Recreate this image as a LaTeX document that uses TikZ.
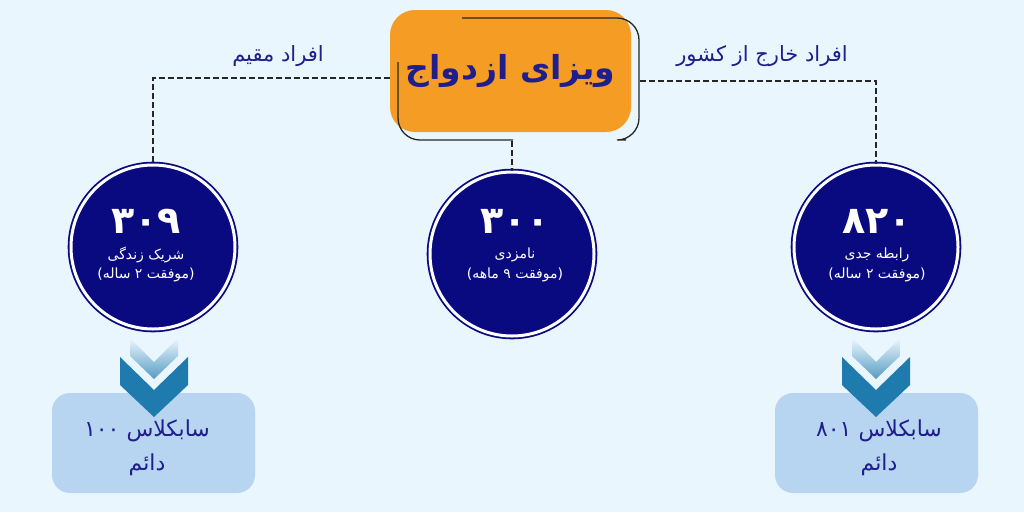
\documentclass[tikz,border=0pt]{standalone}
\usepackage{fontspec}
\usetikzlibrary{shapes,arrows,calc}
\setmainfont{DejaVu Sans}
\newfontfamily\farsi[Script=Arabic]{DejaVu Sans}
\TeXXeTstate=1
\definecolor{bgblue}{RGB}{234,246,253}
\definecolor{titleorange}{RGB}{245,156,36}
\definecolor{navy}{RGB}{10,10,128}
\definecolor{textnavy}{RGB}{30,30,140}
\definecolor{boxblue}{RGB}{183,212,240}
\definecolor{chevblue}{RGB}{31,122,174}
\tikzstyle{every picture}=[x=1pt, y=-1pt]
\tikzstyle{visabox}=[fill=titleorange, rounded corners=25pt, minimum width=241pt,%
	minimum height=122pt, inner sep=0pt, text=textnavy,%
	font=\farsi\bfseries\fontsize{33}{40}\selectfont]
\tikzstyle{frameline}=[draw=black!85, line width=1.3pt, rounded corners=22pt]
\tikzstyle{dashline}=[draw=black!85, line width=1.8pt, dash pattern=on 6pt off 3pt]
\tikzstyle{ring}=[circle, fill=navy, draw=navy, double=white, double distance=3pt,%
	line width=1.8pt, minimum size=164pt, inner sep=0pt]
\tikzstyle{num}=[text=white, font=\farsi\bfseries\fontsize{38}{40}\selectfont]
\tikzstyle{small}=[text=white, font=\farsi\fontsize{14}{17}\selectfont]
\tikzstyle{group}=[text=textnavy, font=\farsi\fontsize{21}{24}\selectfont]
\tikzstyle{subbox}=[fill=boxblue, rounded corners=18pt, minimum width=203pt,%
	minimum height=100pt]
\tikzstyle{subtext}=[text=textnavy, align=center, font=\farsi\fontsize{22}{34}\selectfont]
\tikzstyle{chevron}=[fill=chevblue]
\tikzstyle{fadechevron}=[top color=bgblue, bottom color=chevblue!75]

\begin{document}
\begin{tikzpicture}
	\fill[bgblue] (0,0) rectangle (1024,512);
	\useasboundingbox (0,0) rectangle (1024,512);
	\node[visabox] (visa) at (510.5,71) {\beginR ویزای ازدواج\endR};
	\draw[frameline] (462,18) -- (639,18) -- (639,140) -- (626,140);
	\draw[frameline] (398,62) -- (398,140) -- (513,140);
	\node[ring] (c309) at (153,247) {};
	\node[ring] (c300) at (512,254) {};
	\node[ring] (c820) at (876,247) {};
	\draw[dashline] ($(visa.west)+(0,7)$) -| (c309.north);
	\draw[dashline] ($(visa.east)+(9,10)$) -| (c820.north);
	\draw[dashline] (c300.north |- 0,141) -- (c300.north);
	\node[group] (resident) at (278,56) {\beginR افراد مقیم\endR};
	\node[group] (abroad) at (762,56) {\beginR افراد خارج از کشور\endR};
	\node[num] (n309) at (146,221) {\beginR ۳۰۹\endR};
	\node[small] (l309) at (146,255) {\beginR شریک زندگی\endR};
	\node[small] (p309) at (146,275) {\beginR (موفقت ۲ ساله)\endR};
	\node[num] (n300) at (515,221) {\beginR ۳۰۰\endR};
	\node[small] (l300) at (515,255) {\beginR نامزدی\endR};
	\node[small] (p300) at (515,275) {\beginR (موفقت ۹ ماهه)\endR};
	\node[num] (n820) at (877,221) {\beginR ۸۲۰\endR};
	\node[small] (l820) at (877,255) {\beginR رابطه جدی\endR};
	\node[small] (p820) at (877,275) {\beginR (موفقت ۲ ساله)\endR};
	\node[subbox] (s100) at (153.5,443) {};
	\node[subtext] (t100) at (147,448) {\beginR سابکلاس ۱۰۰\endR\\\beginR دائم\endR};
	\node[subbox] (s801) at (876.5,443) {};
	\node[subtext] (t801) at (879,448) {\beginR سابکلاس ۸۰۱\endR\\\beginR دائم\endR};
	\shade[fadechevron] (130,338) -- (154,362) -- (178,338) -- (178,356) -- (154,379) -- (130,356) -- cycle;
	\fill[chevron] (120,357) -- (154,390) -- (188,357) -- (188,385) -- (154,417) -- (120,385) -- cycle;
	\shade[fadechevron] (852,338) -- (876,362) -- (900,338) -- (900,356) -- (876,379) -- (852,356) -- cycle;
	\fill[chevron] (842,357) -- (876,390) -- (910,357) -- (910,385) -- (876,417) -- (842,385) -- cycle;
\end{tikzpicture}
\end{document}
